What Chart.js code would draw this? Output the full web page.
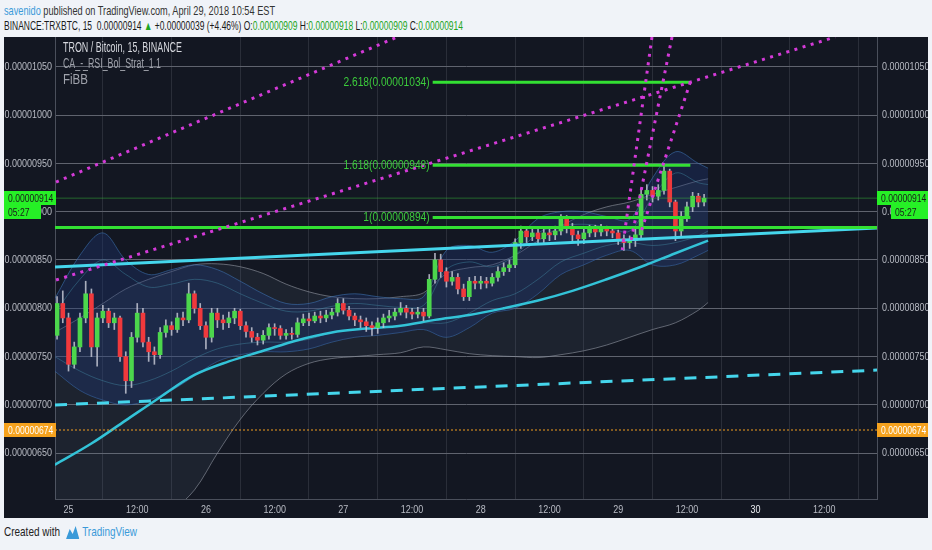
<!DOCTYPE html>
<html>
<head>
<meta charset="utf-8">
<title>TRXBTC, 15</title>
<script src="https://cdn.jsdelivr.net/npm/chart.js@4.4.1/dist/chart.umd.min.js"></script>
<style>
  body { margin: 0; background: #f0f3f8; font-family: 'Liberation Sans', sans-serif; }
  #page { position: relative; width: 932px; height: 550px; overflow: hidden; }
  .fit { position: absolute; white-space: nowrap; transform-origin: 0 50%; display: inline-block; }
  .line1 { left: 4px; top: 3px; font-size: 13px; color: #333; }
  .line2 { left: 4px; top: 19px; font-size: 12.5px; color: #1a1a1a; }
  .user { color: #3a9ad9; }
  .up { color: #1fa61f; }
  #panel { position: absolute; left: 4px; top: 37px; width: 924px; height: 481px; background: #131722; }
  .legend { left: 59px; font-size: 14px; }
  .footer { left: 4px; top: 524px; font-size: 13.5px; color: #222; }
  .footer .tv { color: #3a9ad9; }
  .footer svg { vertical-align: -3px; margin: 0 4px 0 8px; }
</style>
</head>
<body>
<div id="page">
  <div class="fit line1" data-w="271"><span class="user">savenido</span> published on TradingView.com, April 29, 2018 10:54 EST</div>
  <div class="fit line2" data-w="459">BINANCE:TRXBTC, 15 &nbsp;0.00000914 <span class="up">&#9650;</span> +0.00000039 (+4.46%) O:<span class="up">0.00000909</span> H:<span class="up">0.00000918</span> L:<span class="up">0.00000909</span> C:<span class="up">0.00000914</span></div>
  <div id="panel">
    <canvas id="chart"></canvas>
    <div class="fit legend" data-w="119" style="top:2px;color:#d6d8de;">TRON / Bitcoin, 15, BINANCE</div>
    <div class="fit legend" data-w="98" style="top:18px;color:#9fa2ab;">CA_-_RSI_Bol_Strat_1.1</div>
    <div class="fit legend" data-w="25" style="top:34px;color:#9fa2ab;">FiBB</div>
  </div>
  <div class="fit footer" data-w="133">Created with<svg width="18" height="14" viewBox="0 0 18 14"><path d="M0 14 L5 4 L9 9 L13 1 L18 14 Z" fill="#3a9ad9"/></svg><span class="tv">TradingView</span></div>
</div>
<script>
// squeeze the html texts to the narrow width of the original font
document.querySelectorAll('.fit').forEach(el => {
  const w = el.getBoundingClientRect().width;
  el.style.transform = 'scaleX(' + (Number(el.dataset.w) / w) + ')';
});

// prices are in satoshi (1e-8 BTC); x is hours from Apr 25 00:00
const xMin = -2.36, xMax = 141.2;
const yMin = 602.6, yMax = 1080.8;
const tickHours = [0, 12, 24, 36, 48, 60, 72, 84, 96, 108, 120, 132];
const priceTicks = [650, 700, 750, 800, 850, 900, 950, 1000, 1050];

// hourly candles, first one at -2h
const candleOpen = [772, 805, 790, 742, 760, 790, 815, 760, 790, 797, 785, 790, 750, 725, 770, 795, 765, 755, 752, 775,
  782, 778, 790, 788, 815, 800, 782, 770, 795, 788, 785, 790, 797, 782, 776, 770, 767, 772, 780, 779,
  772, 774, 773, 785, 789, 787, 792, 790, 793, 796, 805, 798, 792, 788, 786, 782, 780, 785, 790, 792,
  796, 800, 796, 794, 796, 792, 830, 850, 838, 828, 832, 820, 812, 828, 826, 828, 826, 832, 838, 842,
  845, 868, 880, 874, 878, 872, 878, 876, 880, 893, 884, 876, 872, 878, 882, 879, 882, 880, 878, 872,
  868, 870, 876, 918, 922, 916, 922, 942, 910, 880, 895, 905, 916, 910];
const candleHigh = [812, 818, 795, 765, 795, 828, 820, 795, 803, 800, 795, 792, 755, 775, 805, 800, 770, 760, 780, 788,
  786, 795, 796, 826, 818, 805, 786, 800, 800, 793, 796, 800, 799, 786, 780, 774, 777, 784, 784, 782,
  778, 780, 790, 794, 795, 796, 797, 798, 800, 810, 810, 802, 795, 792, 790, 786, 790, 794, 798, 800,
  806, 803, 800, 801, 800, 835, 857, 856, 842, 838, 836, 825, 832, 833, 833, 832, 836, 843, 847, 850,
  872, 885, 884, 883, 882, 884, 882, 885, 897, 896, 888, 880, 883, 886, 886, 887, 885, 884, 881, 876,
  875, 882, 924, 928, 926, 928, 947, 944, 912, 900, 910, 920, 919, 918];
const candleLow = [768, 785, 735, 738, 755, 785, 750, 740, 785, 780, 778, 745, 712, 718, 765, 760, 745, 742, 748, 770,
  772, 775, 782, 785, 795, 778, 758, 765, 780, 778, 780, 784, 778, 770, 765, 762, 763, 768, 772, 768,
  768, 768, 770, 782, 782, 785, 785, 786, 789, 792, 794, 788, 782, 780, 776, 772, 774, 780, 786, 788,
  793, 790, 789, 790, 787, 790, 826, 832, 822, 824, 815, 808, 808, 820, 820, 821, 823, 828, 834, 838,
  842, 862, 868, 870, 866, 868, 870, 871, 876, 878, 870, 865, 867, 874, 874, 875, 875, 873, 866, 860,
  862, 864, 873, 912, 910, 912, 918, 905, 870, 874, 890, 900, 905, 906];
const candleClose = [805, 790, 742, 760, 790, 815, 760, 790, 797, 785, 790, 750, 725, 770, 795, 765, 755, 752, 775, 782,
  778, 790, 788, 815, 800, 782, 770, 795, 788, 785, 790, 797, 782, 776, 770, 767, 772, 780, 779, 772,
  774, 773, 785, 789, 787, 792, 790, 793, 796, 805, 798, 792, 788, 786, 782, 780, 785, 790, 792, 796,
  800, 796, 794, 796, 792, 830, 850, 838, 828, 832, 820, 812, 828, 826, 828, 826, 832, 838, 842, 845,
  868, 880, 874, 878, 872, 878, 876, 880, 893, 884, 876, 872, 878, 882, 879, 882, 880, 878, 872, 868,
  870, 876, 918, 922, 916, 922, 942, 910, 880, 895, 905, 916, 910, 914];
const candleHours = candleClose.map((_, i) => i - 2);

// bollinger style envelopes
const bandHours = [-2.4, 2, 6, 10, 14, 18, 22, 26, 30, 34, 38, 42, 46, 50, 54, 58, 62, 66, 70, 74, 78, 82, 86, 90, 94, 98, 102, 106, 110, 111.7];
const blueUpper = [810, 855, 878, 850, 835, 840, 845, 840, 828, 815, 805, 805, 812, 815, 812, 810, 812, 860, 865, 858, 870, 893, 900, 900, 895, 892, 935, 962, 950, 945];
const blueLower = [735, 715, 705, 700, 705, 715, 730, 745, 752, 755, 755, 758, 765, 770, 772, 775, 778, 770, 780, 795, 800, 815, 835, 845, 855, 860, 845, 845, 855, 860];
const tealUpper = [795, 830, 850, 835, 822, 825, 830, 826, 815, 805, 797, 797, 802, 805, 803, 801, 803, 840, 848, 843, 855, 878, 885, 887, 884, 880, 915, 940, 930, 928];
const tealLower = [750, 735, 725, 720, 725, 735, 748, 758, 763, 765, 765, 768, 775, 778, 780, 782, 785, 785, 795, 808, 815, 830, 848, 857, 865, 868, 865, 868, 875, 880];
const grayUpper = [775, 790, 805, 820, 830, 838, 845, 846, 843, 836, 825, 817, 812, 810, 810, 812, 816, 836, 842, 845, 855, 870, 885, 897, 905, 910, 918, 925, 932, 934];
const grayLower = [540, 545, 550, 560, 575, 590, 612, 650, 685, 712, 732, 743, 748, 750, 752, 754, 760, 757, 753, 751, 750, 749, 752, 756, 762, 770, 778, 785, 798, 806];

// long moving average
const maHours = [-2.4, 4, 10, 16, 22, 28, 34, 40, 46, 52, 58, 64, 70, 76, 82, 88, 94, 100, 106, 111.7];
const maValues = [638, 660, 684, 708, 731, 745, 756, 767, 775, 779, 782, 788, 793, 800, 808, 818, 830, 843, 857, 870];

// drawn lines: [hour, price] pairs
const trendSolid = [[-2.36, 842.8], [141.2, 883]];
const trendDashed = [[-2.36, 699.9], [141.2, 736]];
const magentaLines = [
  [[-2.18, 930.7], [57.4, 1080.8]],
  [[-2.18, 829.3], [133.9, 1080.8]],
  [[101.9, 1080.8], [96.7, 860.4]],
  [[105.4, 1080.8], [98.1, 865.5]],
  [[108.6, 1034.3], [99.8, 875.9]]
];

const fibBase = 883.5;
const fibLevels = ['1', '1.618', '2.618'];
const fibPrices = [894, 948, 1034];
const fibStart = 63.6, fibEnd = 108.6;

const lastPrice = 914;
const countdown = '05:27';
const alertPrice = 674;

const UP = '#4cd64c', DOWN = '#f0393c', FIB = '#33e033';
const FONT = "'Liberation Sans', sans-serif";
const SQ = 0.78; // horizontal squeeze for canvas text
const fmt = v => (v * 1e-8).toFixed(8);

const pts = (xs, ys) => xs.map((x, i) => ({ x: x, y: ys[i] }));
const seg = s => s.map(p => ({ x: p[0], y: p[1] }));

function lineSet(data, color, width, extra) {
  return Object.assign({
    type: 'line', data: data, borderColor: color, borderWidth: width,
    pointRadius: 0, fill: false, tension: 0
  }, extra || {});
}

const datasets = [
  lineSet(pts(bandHours, grayUpper), 'rgba(150,155,165,0.6)', 1, { fill: '+1', backgroundColor: 'rgba(105,125,145,0.12)', tension: 0.35, order: 20 }),
  lineSet(pts(bandHours, grayLower), 'rgba(150,155,165,0.6)', 1, { tension: 0.35, order: 20 }),
  lineSet(pts(bandHours, blueUpper), 'rgba(64,120,185,0.55)', 1, { fill: '+1', backgroundColor: 'rgba(30,55,120,0.36)', tension: 0.35, order: 19 }),
  lineSet(pts(bandHours, blueLower), 'rgba(64,120,185,0.55)', 1, { tension: 0.35, order: 19 }),
  lineSet(pts(bandHours, tealUpper), 'rgba(70,150,175,0.4)', 1, { tension: 0.35, order: 18 }),
  lineSet(pts(bandHours, tealLower), 'rgba(70,150,175,0.4)', 1, { tension: 0.35, order: 18 }),
  lineSet(pts(maHours, maValues), '#33c3d8', 2.5, { tension: 0.35, order: 15 }),
  {
    type: 'bar', data: candleHours.map((h, i) => ({ x: h, y: [candleLow[i], candleHigh[i]] })),
    backgroundColor: 'rgba(195,198,210,0.85)', barThickness: 1, grouped: false, order: 10
  },
  {
    type: 'bar', data: candleHours.map((h, i) => ({ x: h, y: [candleOpen[i], candleClose[i]] })),
    backgroundColor: candleClose.map((c, i) => c >= candleOpen[i] ? UP : DOWN),
    barThickness: 4, minBarLength: 1, grouped: false, order: 9
  },
  lineSet(seg(trendSolid), '#45d6ec', 3, { order: 6 }),
  lineSet(seg(trendDashed), '#45d6ec', 3, { borderDash: [12, 9], order: 6 }),
  lineSet([{ x: xMin, y: lastPrice }, { x: xMax, y: lastPrice }], 'rgba(60,200,60,0.45)', 1, { order: 7 }),
  lineSet([{ x: xMin, y: alertPrice }, { x: xMax, y: alertPrice }], '#f29d1f', 1.2, { borderDash: [2, 2], order: 7 }),
  lineSet([{ x: xMin, y: fibBase }, { x: xMax, y: fibBase }], FIB, 3, { order: 5 })
];
fibPrices.forEach(p => {
  datasets.push(lineSet([{ x: fibStart, y: p }, { x: fibEnd, y: p }], FIB, 3, { order: 5 }));
});
magentaLines.forEach(s => {
  datasets.push(lineSet(seg(s), '#d43ad8', 3, { borderDash: [3, 5.5], order: 4 }));
});

function squeezedText(ctx, text, x, y, k) {
  ctx.save();
  ctx.translate(x, y);
  ctx.scale(k, 1);
  ctx.fillText(text, 0, 0);
  ctx.restore();
}

// axis labels are drawn before the datasets; narrow them like the original font
const narrowTicks = {
  id: 'narrowTicks',
  beforeDraw(chart) {
    const ctx = chart.ctx;
    const orig = CanvasRenderingContext2D.prototype.fillText;
    ctx.fillText = function (t, x, y) {
      this.save();
      this.translate(x, y);
      this.scale(SQ, 1);
      orig.call(this, t, 0, 0);
      this.restore();
    };
  },
  beforeDatasetsDraw(chart) {
    delete chart.ctx.fillText;
  }
};

// fib labels and the price boxes on both axes
const overlays = {
  id: 'overlays',
  afterDraw(chart) {
    const { ctx, chartArea } = chart;
    const y = chart.scales.y, x = chart.scales.x;
    const W = chart.width;
    ctx.save();
    ctx.textBaseline = 'middle';
    ctx.textAlign = 'right';
    ctx.font = '12px ' + FONT;
    ctx.fillStyle = '#3ccc3c';
    fibPrices.forEach((p, i) => {
      squeezedText(ctx, fibLevels[i] + '(' + fmt(p) + ')', x.getPixelForValue(fibStart) - 3, y.getPixelForValue(p), 0.85);
    });

    ctx.font = '11px ' + FONT;
    function box(x0, x1, yc, bg, fg, text) {
      ctx.fillStyle = bg;
      ctx.fillRect(x0, Math.round(yc - 7), x1 - x0, 14);
      ctx.fillStyle = fg;
      ctx.textAlign = 'left';
      squeezedText(ctx, text, x0 + 4, yc + 0.5, SQ);
    }
    const yp = y.getPixelForValue(lastPrice);
    const ya = y.getPixelForValue(alertPrice);
    box(0, chartArea.left + 1, yp, '#26f026', '#1a1a1a', fmt(lastPrice));
    box(0, 37, yp + 14, '#26f026', '#1a1a1a', countdown);
    box(chartArea.right, W, yp, '#26f026', '#1a1a1a', fmt(lastPrice));
    box(W - 37, W, yp + 14, '#26f026', '#1a1a1a', countdown);
    box(0, chartArea.left + 1, ya, '#f5a21e', '#ffffff', fmt(alertPrice));
    box(chartArea.right, W, ya, '#f5a21e', '#ffffff', fmt(alertPrice));
    ctx.restore();
  }
};

function priceAxis(pos) {
  return {
    type: 'linear', position: pos, min: yMin, max: yMax,
    afterBuildTicks: s => { s.ticks = priceTicks.map(v => ({ value: v })); },
    afterFit: s => { s.width = 51; s.paddingTop = 0; s.paddingBottom = 0; },
    ticks: { callback: v => fmt(v), color: '#b9bcc5', padding: pos === 'left' ? 3 : 5, font: { family: FONT, size: 11.5 } },
    grid: { display: pos === 'left', color: '#5f636e', drawTicks: false },
    border: { color: '#4a4f5b' }
  };
}

new Chart(document.getElementById('chart'), {
  type: 'bar',
  data: { datasets: datasets },
  plugins: [narrowTicks, overlays],
  options: {
    responsive: true,
    maintainAspectRatio: false,
    animation: false,
    layout: { padding: 0 },
    plugins: { legend: { display: false }, tooltip: { enabled: false } },
    scales: {
      x: {
        type: 'linear', min: xMin, max: xMax, offset: false,
        afterBuildTicks: s => { s.ticks = tickHours.map(v => ({ value: v })); },
        afterFit: s => { s.height = 19; s.paddingLeft = 0; s.paddingRight = 0; },
        ticks: {
          callback: v => (v % 24 === 0 ? String(25 + v / 24) : '12:00'),
          color: c => (c.tick && c.tick.value === 120 ? '#eceef2' : '#b9bcc5'),
          padding: 4, maxRotation: 0, font: { family: FONT, size: 11.5 }
        },
        grid: { color: '#2a2e39', drawTicks: false },
        border: { color: '#4a4f5b' }
      },
      y: priceAxis('left'),
      y2: priceAxis('right')
    }
  }
});
</script>
</body>
</html>
